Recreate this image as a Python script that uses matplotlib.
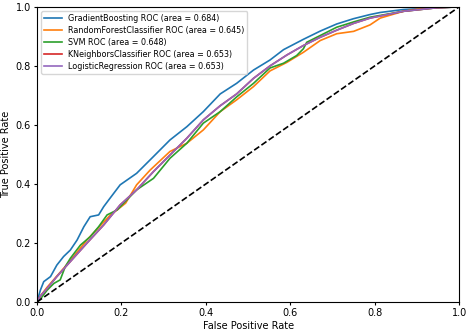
import matplotlib
matplotlib.use("Agg")
import matplotlib.pyplot as plt

names = ["GradientBoosting", "RandomForestClassifier", "SVM", "KNeighborsClassifier", "LogisticRegression"]
areas = [0.684, 0.645, 0.648, 0.653, 0.653]

gb_fpr = [0, 0.008, 0.016, 0.032, 0.047, 0.063, 0.079, 0.095, 0.111, 0.126, 0.146, 0.158, 0.17, 0.197, 0.236,
          0.276, 0.315, 0.355, 0.394, 0.434, 0.473, 0.513, 0.552, 0.584, 0.631, 0.671, 0.71, 0.75, 0.789,
          0.813, 0.868, 0.947, 1.0]
gb_tpr = [0, 0.04, 0.069, 0.086, 0.125, 0.154, 0.176, 0.21, 0.255, 0.289, 0.295, 0.323, 0.346, 0.397, 0.436,
          0.493, 0.549, 0.594, 0.645, 0.705, 0.741, 0.786, 0.82, 0.855, 0.89, 0.918, 0.942, 0.96, 0.974,
          0.981, 0.991, 0.997, 1.0]

rf_fpr = [0, 0.008, 0.024, 0.079, 0.118, 0.174, 0.19, 0.21, 0.236, 0.268, 0.315, 0.355, 0.394, 0.434, 0.473,
          0.513, 0.552, 0.592, 0.631, 0.671, 0.71, 0.75, 0.789, 0.813, 0.868, 0.923, 1.0]
rf_tpr = [0, 0.02, 0.05, 0.14, 0.21, 0.295, 0.312, 0.335, 0.397, 0.447, 0.51, 0.538, 0.583, 0.645, 0.685,
          0.73, 0.783, 0.812, 0.846, 0.886, 0.909, 0.917, 0.939, 0.962, 0.985, 0.997, 1.0]

svm_fpr = [0, 0.008, 0.024, 0.04, 0.055, 0.067, 0.079, 0.103, 0.126, 0.146, 0.166, 0.19, 0.213, 0.236, 0.276,
           0.315, 0.355, 0.394, 0.434, 0.473, 0.513, 0.552, 0.584, 0.615, 0.631, 0.639, 0.671, 0.71, 0.75,
           0.789, 0.813, 0.868, 0.947, 1.0]
svm_tpr = [0, 0.01, 0.04, 0.063, 0.075, 0.12, 0.148, 0.193, 0.221, 0.255, 0.295, 0.312, 0.346, 0.38, 0.419,
           0.487, 0.538, 0.606, 0.645, 0.695, 0.741, 0.793, 0.809, 0.835, 0.858, 0.88, 0.903, 0.931, 0.949,
           0.965, 0.971, 0.985, 0.997, 1.0]

knn_fpr = [0, 0.008, 0.024, 0.047, 0.079, 0.118, 0.158, 0.197, 0.236, 0.276, 0.315, 0.355, 0.394, 0.434,
           0.473, 0.513, 0.552, 0.592, 0.631, 0.671, 0.71, 0.75, 0.789, 0.813, 0.868, 0.947, 1.0]
knn_tpr = [0, 0.02, 0.046, 0.086, 0.137, 0.199, 0.261, 0.329, 0.38, 0.442, 0.498, 0.555, 0.617, 0.665,
           0.705, 0.758, 0.8, 0.837, 0.869, 0.897, 0.921, 0.944, 0.962, 0.969, 0.985, 0.997, 1.0]

lr_fpr = [0, 0.008, 0.024, 0.047, 0.079, 0.118, 0.158, 0.197, 0.236, 0.276, 0.315, 0.355, 0.394, 0.434,
          0.473, 0.513, 0.552, 0.592, 0.631, 0.671, 0.71, 0.75, 0.789, 0.813, 0.868, 0.947, 1.0]
lr_tpr = [0, 0.02, 0.046, 0.086, 0.137, 0.199, 0.261, 0.329, 0.38, 0.442, 0.498, 0.555, 0.617, 0.665,
          0.705, 0.758, 0.8, 0.837, 0.869, 0.897, 0.921, 0.944, 0.962, 0.969, 0.985, 0.997, 1.0]

curves = [(gb_fpr, gb_tpr), (rf_fpr, rf_tpr), (svm_fpr, svm_tpr), (knn_fpr, knn_tpr), (lr_fpr, lr_tpr)]
colors = ["#1f77b4", "#ff7f0e", "#2ca02c", "#d62728", "#9467bd"]

fig = plt.figure(figsize=(4.67, 3.35), dpi=100)
ax = fig.add_axes([0.0792, 0.0985, 0.904, 0.881])

for (fpr, tpr), name, area, c in zip(curves, names, areas, colors):
    ax.plot(fpr, tpr, color=c, lw=1.2, label=f"{name} ROC (area = {area:.3f})")

ax.plot([0, 1], [0, 1], "k--", lw=1.2)
ax.set_xlim(0, 1)
ax.set_ylim(0, 1)
ax.set_xlabel("False Positive Rate", fontsize=7, labelpad=2)
ax.set_ylabel("True Positive Rate", fontsize=7, labelpad=3)
ax.tick_params(labelsize=7, length=2.5, pad=2)
ax.legend(loc="upper left", fontsize=5.8, handlelength=2.3, borderpad=0.35, labelspacing=0.38,
          handletextpad=0.7)

fig.savefig("out.png", dpi=100)
